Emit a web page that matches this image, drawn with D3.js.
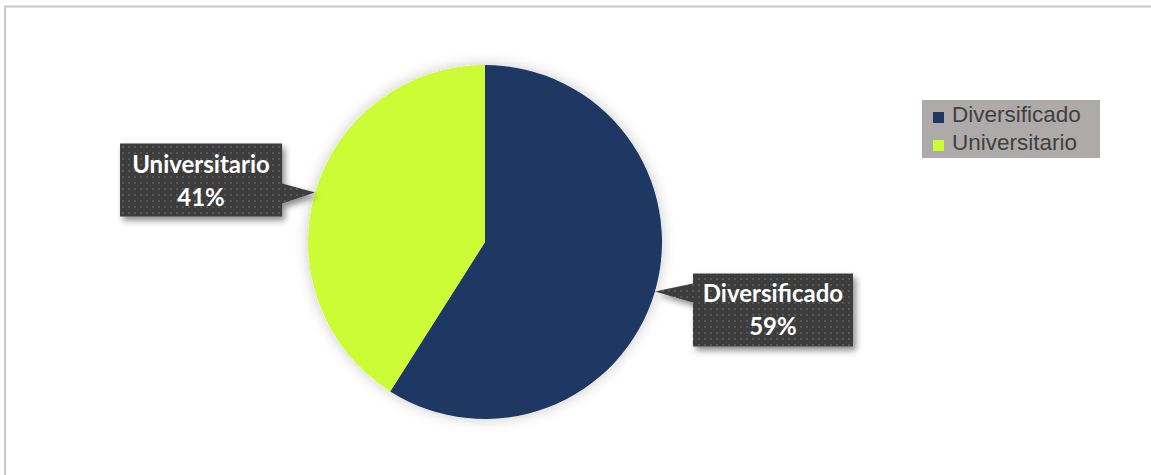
<!DOCTYPE html>
<html>
<head>
<meta charset="utf-8">
<script src="https://cdn.jsdelivr.net/npm/d3@7"></script>
<style>
  html, body { margin: 0; padding: 0; background: #fff; }
  svg { display: block; }
</style>
</head>
<body>
<svg id="chart" width="1151" height="475"></svg>
<script>
// Nivel educativo
const categories = ["Diversificado", "Universitario"];
const values = [59, 41];
const colors = ["#1f3763", "#ccfc35"];

const svg = d3.select("#chart");
const W = 1151, H = 475;

const defs = svg.append("defs");

// dotted fill for the callouts
const pat = defs.append("pattern")
  .attr("id", "dots").attr("patternUnits", "userSpaceOnUse")
  .attr("width", 6).attr("height", 6);
pat.append("rect").attr("width", 6).attr("height", 6).attr("fill", "#3d3d3d");
pat.append("rect").attr("x", 2).attr("y", 2).attr("width", 2).attr("height", 2).attr("fill", "#585858");

const shadow = defs.append("filter").attr("id", "shadow")
  .attr("x", "-20%").attr("y", "-20%").attr("width", "140%").attr("height", "150%");
shadow.append("feDropShadow").attr("dx", 3).attr("dy", 4).attr("stdDeviation", 3)
  .attr("flood-color", "#000").attr("flood-opacity", 0.45);

const glow = defs.append("filter").attr("id", "glow")
  .attr("x", "-20%").attr("y", "-20%").attr("width", "140%").attr("height", "140%");
glow.append("feDropShadow").attr("dx", 0).attr("dy", 0).attr("stdDeviation", 7)
  .attr("flood-color", "#000").attr("flood-opacity", 0.22);

// chart area frame
svg.append("rect")
  .attr("x", 5).attr("y", 6.5).attr("width", W + 10).attr("height", H + 10)
  .attr("fill", "#fff").attr("stroke", "#c8c8c8").attr("stroke-width", 2);

// pie
const cx = 485, cy = 242, r = 177;
const data = categories.map((c, i) => ({ name: c, value: values[i], color: colors[i] }));
const pie = d3.pie().value(d => d.value).sort(null);
const arcs = pie(data);
const arc = d3.arc().innerRadius(0).outerRadius(r);

const g = svg.append("g").attr("transform", `translate(${cx},${cy})`);
g.append("circle").attr("r", r).attr("fill", "#fff").attr("filter", "url(#glow)");
g.selectAll("path.slice").data(arcs).join("path")
  .attr("class", "slice")
  .attr("d", arc)
  .attr("fill", d => d.data.color);

// callout labels: box offsets from the arrow tip on the slice edge
const callouts = {
  "Diversificado": { dx: 38, dy: -18, w: 160, h: 73, side: "right" },
  "Universitario": { dx: -195, dy: -49, w: 162, h: 73, side: "left" }
};
const total = d3.sum(values);

arcs.forEach(a => {
  const mid = (a.startAngle + a.endAngle) / 2;
  const tx = cx + r * Math.sin(mid), ty = cy - r * Math.cos(mid);
  const c = callouts[a.data.name];
  const bx = tx + c.dx, by = ty + c.dy;
  let p;
  if (c.side === "right") {
    p = [[tx, ty], [bx, ty - 8], [bx, by], [bx + c.w, by], [bx + c.w, by + c.h], [bx, by + c.h], [bx, ty + 11]];
  } else {
    const rx = bx + c.w;
    p = [[tx, ty], [rx, ty + 11], [rx, by + c.h], [bx, by + c.h], [bx, by], [rx, by], [rx, ty - 9]];
  }
  const lg = svg.append("g").attr("class", "callout");
  lg.append("path").attr("d", "M" + p.join("L") + "Z")
    .attr("fill", "url(#dots)").attr("filter", "url(#shadow)");
  const pct = Math.round(a.data.value / total * 100) + "%";
  const t = lg.append("text")
    .attr("text-anchor", "middle")
    .attr("font-family", "Lato, 'Open Sans', sans-serif")
    .attr("font-weight", 700).attr("font-size", 24)
    .attr("fill", "#fff");
  t.append("tspan").attr("x", bx + c.w / 2).attr("y", by + 29).text(a.data.name);
  t.append("tspan").attr("x", bx + c.w / 2).attr("y", by + 62).text(pct);
});

// legend
const lgX = 922, lgY = 100;
const legend = svg.append("g").attr("transform", `translate(${lgX},${lgY})`);
legend.append("rect").attr("width", 178).attr("height", 58).attr("fill", "#aeaaaa");
const items = legend.selectAll("g.item").data(data).join("g")
  .attr("class", "item")
  .attr("transform", (d, i) => `translate(0,${i * 28})`);
items.append("rect").attr("x", 11).attr("y", 12).attr("width", 11).attr("height", 11)
  .attr("fill", d => d.color);
items.append("text").attr("x", 30).attr("y", 22)
  .attr("font-family", "'Liberation Sans', Arial, sans-serif")
  .attr("font-size", 22.5).attr("fill", "#404040")
  .text(d => d.name);
</script>
</body>
</html>
